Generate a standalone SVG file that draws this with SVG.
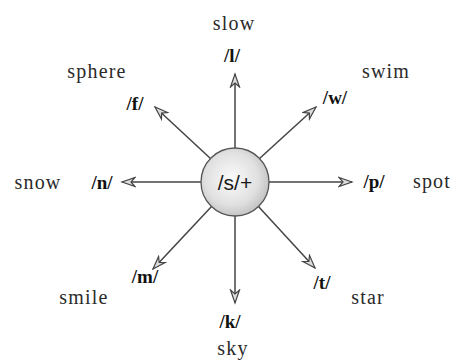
<svg xmlns="http://www.w3.org/2000/svg" width="458" height="361" viewBox="0 0 458 361">
<style>
.w{font-family:"Liberation Serif","Times New Roman",serif;font-size:20px;fill:#2a2a2a;letter-spacing:1.2px}
.p{font-family:"Liberation Serif","Times New Roman",serif;font-weight:bold;font-size:19px;fill:#111}
.c{font-family:"Liberation Sans",Arial,sans-serif;font-size:21px;fill:#1a1a1a}
.a{stroke:#444;stroke-width:1.5;fill:none;marker-end:url(#ah)}
</style>
<defs>
<marker id="ah" markerUnits="userSpaceOnUse" markerWidth="16" markerHeight="12" viewBox="-14 -6 16 12" refX="0" refY="0" orient="auto">
<path d="M0,0 L-13,-4.5 L-9,0 L-13,4.5 Z" fill="#ddd" stroke="#444" stroke-width="1.2" stroke-linejoin="miter"/>
</marker>
<radialGradient id="g" cx="0.45" cy="0.45" r="0.6">
<stop offset="0" stop-color="#fbfbfb"/>
<stop offset="0.65" stop-color="#e0e0e0"/>
<stop offset="1" stop-color="#bdbdbd"/>
</radialGradient>
</defs>
<g id="connectors">
<line class="a" x1="235" y1="149" x2="235" y2="74"/>
<line class="a" x1="268" y1="182" x2="352" y2="182"/>
<line class="a" x1="202" y1="182" x2="122" y2="182"/>
<line class="a" x1="211" y1="159" x2="155" y2="107"/>
<line class="a" x1="259" y1="159" x2="316" y2="107"/>
<line class="a" x1="212" y1="206" x2="153" y2="269"/>
<line class="a" x1="235" y1="215" x2="235" y2="303"/>
<line class="a" x1="258" y1="206" x2="315" y2="268"/>
</g>
<g id="center">
<circle cx="235" cy="182" r="34" fill="url(#g)" stroke="#555" stroke-width="1.3"/>
<text class="c" x="235" y="190" text-anchor="middle">/s/+</text>
</g>
<g id="n-l"><text class="w" x="234" y="30" text-anchor="middle">slow</text><text class="p" x="232" y="62" text-anchor="middle">/l/</text></g>
<g id="n-f"><text class="w" x="97" y="78" text-anchor="middle">sphere</text><text class="p" x="135" y="110" text-anchor="middle">/f/</text></g>
<g id="n-w"><text class="w" x="386" y="78" text-anchor="middle">swim</text><text class="p" x="335" y="104" text-anchor="middle">/w/</text></g>
<g id="n-n"><text class="w" x="38" y="189" text-anchor="middle">snow</text><text class="p" x="102" y="189" text-anchor="middle">/n/</text></g>
<g id="n-p"><text class="p" x="374" y="188" text-anchor="middle">/p/</text><text class="w" x="432" y="188" text-anchor="middle">spot</text></g>
<g id="n-m"><text class="p" x="145" y="283" text-anchor="middle">/m/</text><text class="w" x="84" y="304" text-anchor="middle">smile</text></g>
<g id="n-k"><text class="p" x="230" y="328" text-anchor="middle">/k/</text><text class="w" x="233" y="355" text-anchor="middle">sky</text></g>
<g id="n-t"><text class="p" x="322" y="289" text-anchor="middle">/t/</text><text class="w" x="368" y="304" text-anchor="middle">star</text></g>
</svg>
